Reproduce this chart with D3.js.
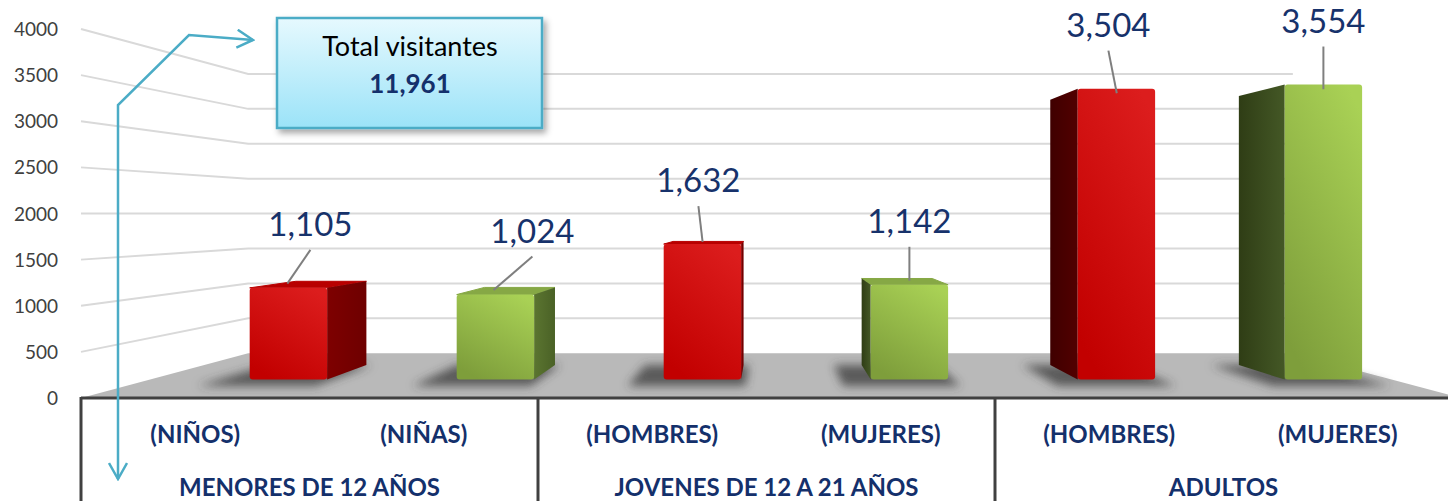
<!DOCTYPE html>
<meta charset="utf-8">
<style>
body { margin: 0; background: #fff; }
text { font-family: Lato, "Open Sans", sans-serif; }
</style>
<svg width="1448" height="501"></svg>
<script src="https://d3js.org/d3.v7.min.js"></script>
<script>

// datos
var groups = ["MENORES DE 12 AÑOS", "JOVENES DE 12 A 21 AÑOS", "ADULTOS"];
var categories = ["(NIÑOS)", "(NIÑAS)", "(HOMBRES)", "(MUJERES)", "(HOMBRES)", "(MUJERES)"];
var categoryGroup = [0, 0, 1, 1, 2, 2];
var sexes = ["m", "f", "m", "f", "m", "f"];
var values = [1105, 1024, 1632, 1142, 3504, 3554];
var yTicks = [0, 500, 1000, 1500, 2000, 2500, 3000, 3500, 4000];
var totalTitle = "Total visitantes";

var svg = d3.select("svg"),
    width = +svg.attr("width"),
    height = +svg.attr("height");

// perspectiva: punto de fuga y escalas de profundidad
var vp = {x: 769, y: 214},
    sBack = 0.757,
    sBarFront = 0.9,
    sBarBack = 0.82;

var y = d3.scaleLinear().domain([0, 4000]).range([398, 29]);
var floorX = [81, 1461];
var xTable = d3.scaleBand().domain(d3.range(categories.length)).range([81, 1452]);
var xBar = d3.scaleBand().domain(d3.range(categories.length)).range([120, 1500])
    .paddingInner(0.626).paddingOuter(0.313);

function proj(xf, yf, s) { return [vp.x + (xf - vp.x) * s, vp.y + (yf - vp.y) * s]; }
function poly(pts) { return "M" + pts.map(function(p) { return p[0] + "," + p[1]; }).join("L") + "Z"; }

var fmt = d3.format(",");

var palette = {
  m: {front: ["#dc1d1d", "#c20000"], top: "#b80000", sideR: ["#7e0000", "#6e0000"], sideL: ["#3f0000", "#520000"]},
  f: {front: ["#a9d155", "#7e9e3b"], top: "#86a845", sideR: ["#5b7530", "#4a6126"], sideL: ["#2f3d15", "#445826"]}
};

var defs = svg.append("defs");

Object.keys(palette).forEach(function(k) {
  var p = palette[k];
  var g = defs.append("linearGradient").attr("id", "front-" + k)
      .attr("x1", 0.8).attr("y1", 0).attr("x2", 0.3).attr("y2", 1);
  g.append("stop").attr("offset", 0).attr("stop-color", p.front[0]);
  g.append("stop").attr("offset", 1).attr("stop-color", p.front[1]);
  ["sideR", "sideL"].forEach(function(side) {
    var gs = defs.append("linearGradient").attr("id", side + "-" + k)
        .attr("x1", 0).attr("y1", 0).attr("x2", 1).attr("y2", 0);
    gs.append("stop").attr("offset", 0).attr("stop-color", p[side][0]);
    gs.append("stop").attr("offset", 1).attr("stop-color", p[side][1]);
  });
});

var cg = defs.append("linearGradient").attr("id", "callout")
    .attr("x1", 0).attr("y1", 0).attr("x2", 0).attr("y2", 1);
cg.append("stop").attr("offset", 0).attr("stop-color", "#e6f9fe");
cg.append("stop").attr("offset", 1).attr("stop-color", "#9be3f8");

defs.append("filter").attr("id", "blur").attr("x", -0.5).attr("y", -0.5).attr("width", 2).attr("height", 2)
  .append("feGaussianBlur").attr("stdDeviation", 5);

defs.append("filter").attr("id", "shadow").attr("x", -0.1).attr("y", -0.1).attr("width", 1.3).attr("height", 1.4)
  .append("feDropShadow").attr("dx", 3).attr("dy", 4).attr("stdDeviation", 3)
  .attr("flood-color", "#000").attr("flood-opacity", 0.35);

defs.append("marker").attr("id", "arrow")
    .attr("viewBox", "0 0 20 20").attr("refX", 18).attr("refY", 10)
    .attr("markerUnits", "userSpaceOnUse").attr("markerWidth", 20).attr("markerHeight", 20)
    .attr("orient", "auto-start-reverse")
  .append("path").attr("d", "M2,1L18,10L2,19")
    .attr("fill", "none").attr("stroke", "#4bacc6").attr("stroke-width", 2.5);

// paredes: lineas de division
var grid = svg.append("g").attr("fill", "none").attr("stroke", "#d9d9d9").attr("stroke-width", 2);
grid.selectAll("path")
  .data(yTicks.filter(function(t) { return t > 0; }))
  .enter().append("path")
    .attr("d", function(t) {
      var a = [floorX[0], y(t)], b = proj(floorX[0], y(t), sBack), c = proj(floorX[1], y(t), sBack);
      return "M" + a + "L" + b + "L" + c;
    });

// eje y
svg.append("g").selectAll("text")
  .data(yTicks)
  .enter().append("text")
    .attr("x", 58)
    .attr("y", function(t) { return y(t) + 7; })
    .attr("text-anchor", "end")
    .attr("font-size", 19)
    .attr("fill", "#404040")
    .text(function(t) { return t; });

// suelo
svg.append("path")
    .attr("d", poly([[floorX[0], y(0)], [floorX[1], y(0)], proj(floorX[1], y(0), sBack), proj(floorX[0], y(0), sBack)]))
    .attr("fill", "#b9b9b9");

// barras
var bw = xBar.bandwidth();
var bars = values.map(function(v, i) {
  var x0 = xBar(i), x1 = x0 + bw, yt = y(v), yb = y(0);
  return {
    i: i, v: v, sex: sexes[i],
    FLT: proj(x0, yt, sBarFront), FRT: proj(x1, yt, sBarFront),
    BLT: proj(x0, yt, sBarBack), BRT: proj(x1, yt, sBarBack),
    FLB: proj(x0, yb, sBarFront), FRB: proj(x1, yb, sBarFront),
    BLB: proj(x0, yb, sBarBack), BRB: proj(x1, yb, sBarBack),
    x0: x0, x1: x1, yb: yb, yt: yt
  };
});

// sombras en el suelo
svg.append("g").attr("filter", "url(#blur)").selectAll("path")
  .data(bars)
  .enter().append("path")
    .attr("d", function(d) {
      return poly([proj(d.x0 - 34, d.yb, sBarFront + 0.035), proj(d.x1 + 6, d.yb, sBarFront + 0.035),
                   proj(d.x1 + 6, d.yb, sBarBack), proj(d.x0 - 34, d.yb, sBarBack)]);
    })
    .attr("fill", "#3a3a3a")
    .attr("opacity", 0.75);

var bar = svg.append("g").selectAll("g")
  .data(bars)
  .enter().append("g");

// cara superior (solo si esta por debajo del horizonte)
bar.filter(function(d) { return d.yt > vp.y; })
  .append("path")
    .attr("d", function(d) { return poly([d.FLT, d.FRT, d.BRT, d.BLT]); })
    .attr("fill", function(d) { return palette[d.sex].top; })
    .attr("stroke", function(d) { return palette[d.sex].top; })
    .attr("stroke-linejoin", "round");

// cara lateral visible
bar.append("path")
    .attr("d", function(d) {
      if (d.BRT[0] > d.FRT[0]) return poly([d.FRT, d.BRT, d.BRB, d.FRB]);
      return poly([d.BLT, d.FLT, d.FLB, d.BLB]);
    })
    .attr("fill", function(d) {
      return "url(#" + (d.BRT[0] > d.FRT[0] ? "sideR-" : "sideL-") + d.sex + ")";
    });

// cara frontal
bar.append("rect")
    .attr("x", function(d) { return d.FLT[0]; })
    .attr("y", function(d) { return d.FLT[1]; })
    .attr("width", function(d) { return d.FRT[0] - d.FLT[0]; })
    .attr("height", function(d) { return d.FLB[1] - d.FLT[1]; })
    .attr("rx", 3)
    .attr("fill", function(d) { return "url(#front-" + d.sex + ")"; });

// etiquetas de datos con lineas guia
var labelDx = [22, 37, -4, 0, -8, 0];
var label = svg.append("g").selectAll("g")
  .data(bars)
  .enter().append("g");

label.each(function(d) {
  var cx = (d.FLT[0] + d.FRT[0]) / 2,
      topY = (d.FLT[1] + d.BLT[1]) / 2,
      lx = cx + labelDx[d.i],
      ly = d.FLT[1] - 64;
  d3.select(this).append("line")
      .attr("x1", lx).attr("y1", ly + 26)
      .attr("x2", cx - labelDx[d.i] * 0.05).attr("y2", topY - 1)
      .attr("stroke", "#7f7f7f").attr("stroke-width", 2);
  d3.select(this).append("text")
      .attr("x", lx).attr("y", ly + 12)
      .attr("text-anchor", "middle")
      .attr("font-size", 33)
      .attr("fill", "#17326b")
      .text(fmt(d.v));
});

// tabla de categorias
var table = svg.append("g");
table.append("line")
    .attr("x1", floorX[0]).attr("x2", width).attr("y1", y(0)).attr("y2", y(0))
    .attr("stroke", "#404040").attr("stroke-width", 3);

var groupStarts = groups.map(function(g, gi) { return categoryGroup.indexOf(gi); });
table.selectAll(".sep")
  .data(groupStarts)
  .enter().append("line")
    .attr("class", "sep")
    .attr("x1", function(i) { return xTable(i); })
    .attr("x2", function(i) { return xTable(i); })
    .attr("y1", y(0) - 1).attr("y2", height)
    .attr("stroke", "#404040").attr("stroke-width", 3);

table.selectAll(".cat")
  .data(categories)
  .enter().append("text")
    .attr("class", "cat")
    .attr("x", function(c, i) { return xTable(i) + xTable.bandwidth() / 2; })
    .attr("y", 443)
    .attr("text-anchor", "middle")
    .attr("font-size", 24)
    .attr("font-weight", "bold")
    .attr("fill", "#14306b")
    .text(function(c) { return c; });

table.selectAll(".grp")
  .data(groups)
  .enter().append("text")
    .attr("class", "grp")
    .attr("x", function(g, gi) {
      var idx = d3.range(categories.length).filter(function(i) { return categoryGroup[i] === gi; });
      return (xTable(idx[0]) + xTable(idx[idx.length - 1]) + xTable.bandwidth()) / 2;
    })
    .attr("y", 496)
    .attr("text-anchor", "middle")
    .attr("font-size", 24)
    .attr("font-weight", "bold")
    .attr("fill", "#14306b")
    .text(function(g) { return g; });

// conector con flechas
svg.append("path")
    .attr("d", "M118,479L118,105L189,35L253,40")
    .attr("fill", "none")
    .attr("stroke", "#4bacc6")
    .attr("stroke-width", 2.5)
    .attr("marker-start", "url(#arrow)")
    .attr("marker-end", "url(#arrow)");

// cuadro del total
var callout = svg.append("g");
callout.append("rect")
    .attr("x", 277).attr("y", 18).attr("width", 265).attr("height", 110)
    .attr("fill", "url(#callout)")
    .attr("stroke", "#4bacc6").attr("stroke-width", 2.5)
    .attr("filter", "url(#shadow)");
callout.append("text")
    .attr("x", 410).attr("y", 56)
    .attr("text-anchor", "middle")
    .attr("font-size", 27)
    .attr("fill", "#000")
    .text(totalTitle);
callout.append("text")
    .attr("x", 410).attr("y", 93)
    .attr("text-anchor", "middle")
    .attr("font-size", 26)
    .attr("font-weight", "bold")
    .attr("fill", "#14306b")
    .text(fmt(d3.sum(values)));

</script>
